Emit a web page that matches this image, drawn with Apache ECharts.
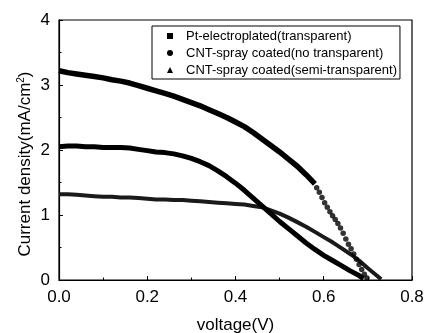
<!DOCTYPE html>
<html>
<head>
<meta charset="utf-8">
<script src="https://cdn.jsdelivr.net/npm/echarts@6/dist/echarts.min.js"></script>
<style>
  html, body { margin: 0; padding: 0; background: #fff; }
  #chart { width: 425px; height: 333px; }
</style>
</head>
<body>
<div id="chart"></div>
<script>
// J-V curves
const xTicks = [0.0, 0.2, 0.4, 0.6, 0.8]
const yTicks = [0, 1, 2, 3, 4]

const names = [
  'Pt-electroplated(transparent)',
  'CNT-spray coated(no transparent)',
  'CNT-spray coated(semi-transparent)'
]

// CNT no transparent: dense part
const vOpaque = [0.00, 0.02, 0.04, 0.06, 0.08, 0.10, 0.12, 0.14, 0.16, 0.18, 0.20, 0.22, 0.24, 0.26, 0.28,
  0.30, 0.32, 0.34, 0.36, 0.38, 0.40, 0.42, 0.44, 0.46, 0.48, 0.50, 0.52, 0.54, 0.56, 0.58]
const jOpaque = [3.22, 3.19, 3.17, 3.15, 3.13, 3.11, 3.08, 3.06, 3.03, 2.99, 2.95, 2.91, 2.87, 2.83, 2.78,
  2.73, 2.68, 2.62, 2.56, 2.50, 2.43, 2.36, 2.27, 2.17, 2.07, 1.97, 1.86, 1.75, 1.62, 1.48]
// CNT no transparent: separated points on the steep part
const vOpaqueDots = [0.584, 0.590, 0.596, 0.602, 0.608, 0.614, 0.620, 0.626, 0.632, 0.638,
  0.644, 0.650, 0.656, 0.662, 0.668, 0.674, 0.680, 0.686, 0.692, 0.698]
const jOpaqueDots = [1.42, 1.35, 1.27, 1.19, 1.12, 1.05, 0.99, 0.93, 0.87, 0.80,
  0.72, 0.63, 0.55, 0.48, 0.40, 0.32, 0.24, 0.16, 0.09, 0.03]

// Pt electroplated
const vPt = [0.00, 0.02, 0.04, 0.06, 0.08, 0.10, 0.12, 0.14, 0.16, 0.18, 0.20, 0.22, 0.24, 0.26, 0.28,
  0.30, 0.32, 0.34, 0.36, 0.38, 0.40, 0.42, 0.44, 0.46, 0.48, 0.50, 0.52, 0.54, 0.56, 0.58,
  0.60, 0.62, 0.64, 0.66, 0.68, 0.69]
const jPt = [2.05, 2.06, 2.06, 2.05, 2.05, 2.04, 2.04, 2.04, 2.03, 2.01, 1.99, 1.97, 1.96, 1.94, 1.91,
  1.87, 1.82, 1.76, 1.68, 1.59, 1.49, 1.38, 1.26, 1.14, 1.02, 0.90, 0.79, 0.68, 0.57, 0.47,
  0.38, 0.30, 0.22, 0.14, 0.07, 0.02]

// CNT semi transparent
const vSemi = [0.00, 0.02, 0.04, 0.06, 0.08, 0.10, 0.12, 0.14, 0.16, 0.18, 0.20, 0.22, 0.24, 0.26, 0.28,
  0.30, 0.32, 0.34, 0.36, 0.38, 0.40, 0.42, 0.44, 0.46, 0.48, 0.50, 0.52, 0.54, 0.56, 0.58,
  0.60, 0.62, 0.64, 0.66, 0.68, 0.70, 0.72, 0.73]
const jSemi = [1.32, 1.32, 1.31, 1.30, 1.29, 1.28, 1.28, 1.27, 1.27, 1.26, 1.25, 1.24, 1.24, 1.23, 1.23,
  1.22, 1.21, 1.20, 1.19, 1.18, 1.17, 1.16, 1.14, 1.12, 1.07, 1.02, 0.96, 0.89, 0.82, 0.74,
  0.66, 0.58, 0.49, 0.40, 0.30, 0.18, 0.07, 0.01]

const pairs = (xs, ys) => xs.map((x, i) => [x, ys[i]])

const font = 'Liberation Sans, Arial, sans-serif'

const myChart = echarts.init(document.getElementById('chart'))

const option = {
  animation: false,
  textStyle: { fontFamily: font },
  grid: {
    left: 59,
    right: 13,
    top: 20,
    bottom: 53,
    outerBoundsMode: 'none',
    containLabel: false,
    show: true,
    borderColor: '#000',
    borderWidth: 1.2
  },
  legend: {
    orient: 'vertical',
    left: 152,
    top: 26,
    width: 245,
    padding: [3, 3, 2, 15],
    itemGap: 3,
    itemWidth: 6,
    itemHeight: 6,
    borderColor: '#000',
    borderWidth: 1,
    backgroundColor: '#fff',
    selectedMode: false,
    textStyle: {
      fontFamily: font,
      fontSize: 13,
      color: '#000',
      lineHeight: 14,
      padding: [0, 0, 0, 8]
    },
    data: [
      { name: names[0], icon: 'rect' },
      { name: names[1], icon: 'circle' },
      { name: names[2], icon: 'triangle' }
    ]
  },
  xAxis: {
    type: 'value',
    min: 0,
    max: 0.8,
    interval: 0.2,
    name: 'voltage(V)',
    nameLocation: 'middle',
    nameGap: 37,
    nameTextStyle: { fontSize: 17, color: '#000', fontFamily: font },
    axisLine: { lineStyle: { color: '#000', width: 1.2 } },
    axisTick: { inside: true, length: 4, lineStyle: { color: '#000' } },
    minorTick: { show: true, splitNumber: 2, length: 2.5, lineStyle: { color: '#000' } },
    splitLine: { show: false },
    axisLabel: {
      margin: 9,
      fontSize: 17,
      color: '#000',
      formatter: (v) => (xTicks.includes(v) ? v.toFixed(1) : '')
    }
  },
  yAxis: {
    type: 'value',
    min: 0,
    max: 4,
    interval: 1,
    axisLine: { show: true, lineStyle: { color: '#000', width: 1.2 } },
    axisTick: { show: true, inside: true, length: 4, lineStyle: { color: '#000' } },
    minorTick: { show: true, splitNumber: 2, length: 2.5, lineStyle: { color: '#000' } },
    splitLine: { show: false },
    axisLabel: {
      margin: 9,
      fontSize: 17,
      color: '#000',
      formatter: (v) => (yTicks.includes(v) ? String(v) : '')
    }
  },
  graphic: [
    {
      type: 'text',
      x: 25,
      y: 164,
      rotation: Math.PI / 2,
      style: {
        text: 'Current density(mA/cm{sup|2})',
        font: '17px ' + font,
        fill: '#000',
        align: 'center',
        verticalAlign: 'middle',
        rich: {
          sup: { fontSize: 10, fontFamily: font, padding: [0, 0, 8, 0] }
        }
      }
    }
  ],
  series: [
    {
      name: names[0],
      type: 'line',
      data: pairs(vPt, jPt),
      showSymbol: false,
      color: '#000',
      lineStyle: { color: '#000', width: 5 },
      z: 3
    },
    {
      name: names[1],
      type: 'line',
      data: pairs(vOpaque, jOpaque),
      showSymbol: false,
      color: '#000',
      lineStyle: { color: '#000', width: 5.5 },
      z: 3
    },
    {
      name: names[1],
      type: 'scatter',
      data: pairs(vOpaqueDots, jOpaqueDots),
      symbol: 'circle',
      symbolSize: 5.5,
      color: '#000',
      itemStyle: { color: '#000' },
      z: 3
    },
    {
      name: names[2],
      type: 'line',
      data: pairs(vSemi, jSemi),
      showSymbol: false,
      color: '#000',
      lineStyle: { color: '#1a1a1a', width: 4 },
      z: 2
    }
  ]
}

myChart.setOption(option)

window.addEventListener('resize', () => {
  myChart.resize()
})
</script>
</body>
</html>
